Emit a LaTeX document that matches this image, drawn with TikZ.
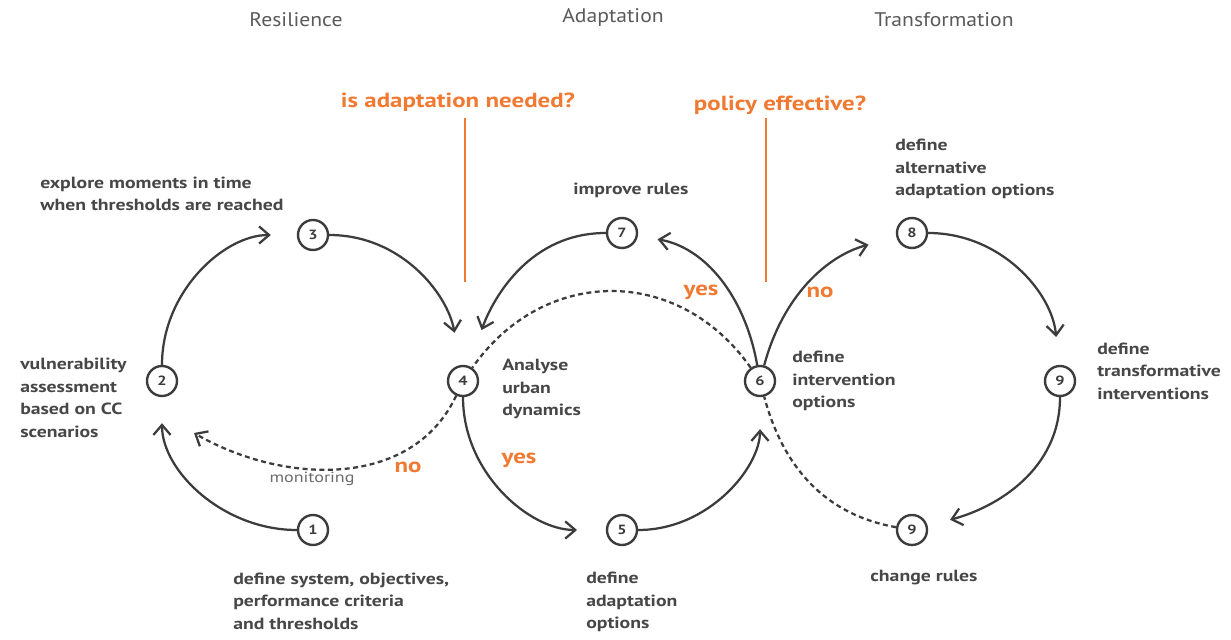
\documentclass[tikz,border=0pt]{standalone}
\usepackage{fontspec}
\setmainfont{PT Sans}
\newfontfamily\widefont[FakeStretch=1.22]{PT Sans}
\newfontfamily\phasefont[FakeStretch=1.1]{PT Sans}
\usetikzlibrary{arrows.meta}

\definecolor{ink}{HTML}{3C3C3C}
\definecolor{inkt}{HTML}{474747}
\definecolor{orng}{HTML}{F07A32}

\tikzset{
  stage/.style={circle,draw=ink,line width=1.7pt,minimum size=0.75cm,inner sep=0pt,
    font=\widefont\bfseries\fontsize{9.5}{10}\selectfont,text=ink},
  flow/.style={draw=ink,line width=1.6pt,-{Straight Barb[length=2.5mm,width=4.3mm]}},
  back/.style={draw=ink,line width=1.6pt,dash pattern=on 3.5pt off 2.5pt},
  note/.style={font=\widefont\bfseries\fontsize{11.5}{16}\selectfont,text=inkt,align=left,inner sep=0pt},
  cue/.style={font=\widefont\bfseries\fontsize{14.5}{16}\selectfont,text=orng,inner sep=0pt},
  phase/.style={font=\phasefont\fontsize{14}{16}\selectfont,text=inkt!90,inner sep=0pt}
}

\begin{document}
\begin{tikzpicture}[x=0.025cm,y=0.025cm]

    % canvas
    \fill[white] (0,0) rectangle (1231,639);
    \useasboundingbox (0,0) rectangle (1231,639);

    % phases
    \node[phase] (res) at (296,619) {Resilience};
    \node[phase] (ada) at (613,622) {Adaptation};
    \node[phase] (tra) at (944,619) {Transformation};

    % questions
    \node[cue] (q1) at (458,537) {is adaptation needed?};
    \node[cue] (q2) at (780,534) {policy effective?};
    \coordinate (q1end) at (465,357);
    \coordinate (q2end) at (766,357);
    \draw[orng,line width=1.3pt] (q1end |- 0,521) -- (q1end);
    \draw[orng,line width=1.3pt] (q2end |- 0,521) -- (q2end);

    % steps
    \node[stage] (n1) at (313,109) {1};
    \node[stage] (n2) at (162,258) {2};
    \node[stage] (n3) at (313,404) {3};
    \node[stage] (n4) at (463,258) {4};
    \node[stage] (n5) at (622,109) {5};
    \node[stage] (n6) at (760,258) {6};
    \node[stage] (n7) at (622,406) {7};
    \node[stage] (n8) at (912,406) {8};
    \node[stage] (n9) at (1060,258) {9};
    \node[stage] (n9b) at (912,109) {9};

    % step texts
    \node[note,anchor=west] (t1) at (233,38) {define system, objectives,\\performance criteria\\and thresholds};
    \node[note,anchor=west] (t2) at (20,241) {vulnerability\\assessment\\based on CC\\scenarios};
    \node[note,anchor=west] (t3) at (40,445) {explore moments in time\\when thresholds are reached};
    \node[note,anchor=west] (t4) at (502,250) {Analyse\\urban\\dynamics};
    \node[note,anchor=west] (t5) at (586,37) {define\\adaptation\\options};
    \node[note,anchor=west] (t6) at (792,258) {define\\intervention\\options};
    \node[note,anchor=west] (t7) at (573,449) {improve rules};
    \node[note,anchor=west] (t8) at (895,470) {define\\alternative\\adaptation options};
    \node[note,anchor=west] (t9) at (1097,268) {define\\transformative\\interventions};
    \node[note] (t9b) at (924,61) {change rules};

    % cycle arcs
    \draw[flow,shorten >=0.65cm] (n1) to[out=180,in=-90] (n2);
    \draw[flow,shorten >=0.65cm] (n2) to[out=90,in=180] (n3);
    \draw[flow,shorten >=0.82cm] (n3) to[out=0,in=100] (n4);
    \draw[flow,shorten >=0.72cm] (n4) to[out=-90,in=180] (n5);
    \draw[flow,shorten >=0.8cm] (n5) to[out=0,in=-90] (n6);
    \draw[flow,shorten >=0.5cm] (n6) to[out=100,in=-10] (n7);
    \draw[flow,shorten >=0.95cm] (n7) to[out=180,in=70] (n4);
    \draw[flow,shorten >=0.72cm] (n6) to[out=75,in=195] (n8);
    \draw[flow,shorten >=0.7cm] (n8) to[out=0,in=95] (n9);
    \draw[flow,shorten >=0.58cm] (n9) to[out=-90,in=15] (n9b);

    % feedback loops
    \coordinate (mon) at (194,206);
    \draw[back] (n6) to[out=125,in=55,looseness=1.15] (n4);
    \draw[back,-{Straight Barb[length=2.5mm,width=4.3mm]}] (n4) to[out=-115,in=-30] (mon);
    \draw[back] (n9b) to[out=170,in=-75] (n6);

    % answers
    \node[cue] (no1) at (408,172) {no};
    \node[cue] (yes1) at (519,179) {yes};
    \node[cue] (yes2) at (701,347) {yes};
    \node[cue] (no2) at (820,347) {no};
    \node[font=\widefont\fontsize{10.5}{12}\selectfont,text=inkt!80,inner sep=0pt] (montxt) at (312,160) {monitoring};

\end{tikzpicture}
\end{document}
